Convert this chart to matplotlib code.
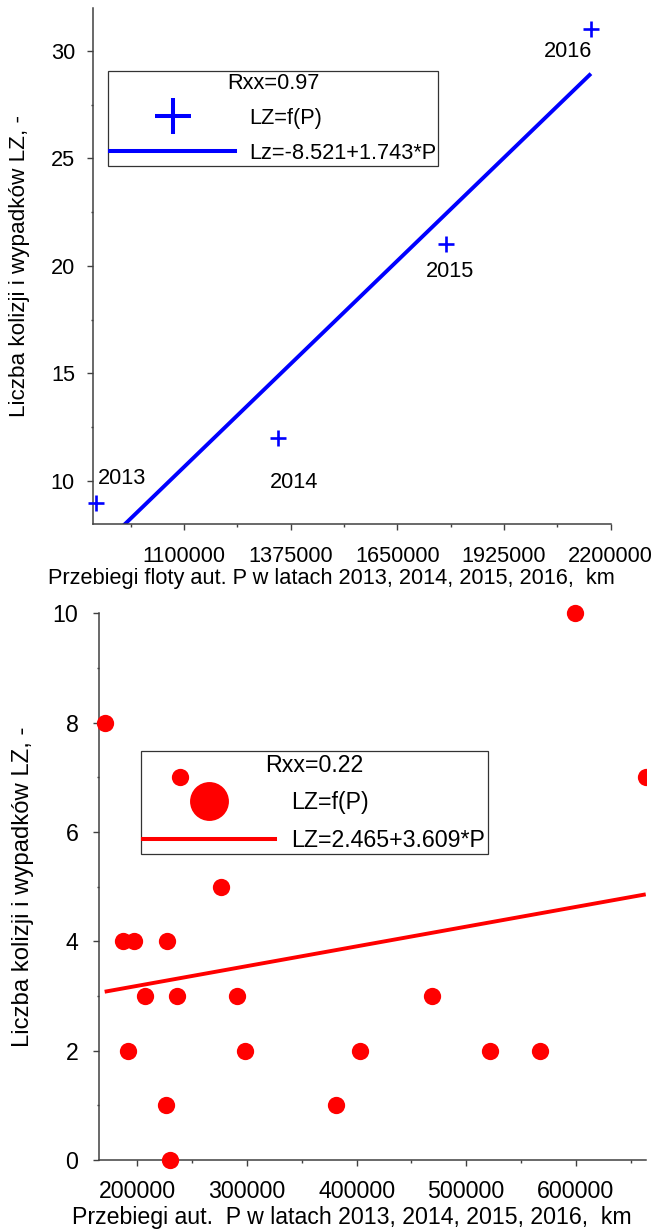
import matplotlib
matplotlib.use("Agg")
import matplotlib.pyplot as plt
from matplotlib.lines import Line2D
from matplotlib.patches import Rectangle
from matplotlib.ticker import MultipleLocator

plt.rcParams['font.family'] = ['Liberation Sans', 'DejaVu Sans']

"""
Top chart - whole fleet, one point per year
"""
years = ['2013', '2014', '2015', '2016']
fleet_km = [874000, 1343000, 1775000, 2149000]
fleet_lz = [9, 12, 21, 31]
fleet_fit = (-8.521, 1.743)   # LZ = a + b*P, P in 100000 km
fleet_r = 0.97

"""
Bottom chart - single cars
"""
car_km = [170200, 238600, 599200, 663800, 276100, 187250, 196900, 227000,
          207000, 236300, 291200, 468600, 191500, 298550, 402900, 521900,
          567150, 225900, 380900, 229800]
car_lz = [8, 7, 10, 7, 5, 4, 4, 4, 3, 3, 3, 3, 2, 2, 2, 2, 2, 1, 1, 0]
car_fit = (2.465, 3.609)      # LZ = a + b*P, P in 1000000 km
car_r = 0.22

# year label offsets (points)
year_offsets = [(18.5, 17.5), (11.5, -32), (3, -19.5), (-16.5, -16)]

BLUE = '#0000ff'
RED = '#ff0000'
AXC = '#404040'
YLABEL = 'Liczba kolizji i wypadków LZ, -'
FS_TOP = 15.7
FS_BOT = 16.7


def style_axes(ax, fs, xpad, ypad):
    for s in ['top', 'right']:
        ax.spines[s].set_visible(False)
    for s in ['left', 'bottom']:
        ax.spines[s].set_linewidth(1.1)
        ax.spines[s].set_color(AXC)
    ax.tick_params(which='major', direction='out', length=4, width=1.0,
                   color=AXC, labelsize=fs)
    ax.tick_params(which='minor', direction='out', length=1.8, width=1.0, color=AXC)
    ax.tick_params(axis='x', which='major', pad=xpad)
    ax.tick_params(axis='y', which='major', pad=ypad)
    ax.ticklabel_format(axis='x', style='plain', useOffset=False)


fig = plt.figure(figsize=(6.66, 12.29), dpi=100)

# ---------------- top ----------------
ax1 = fig.add_axes([0.1401, 0.5736, 0.7769, 0.4201])
style_axes(ax1, FS_TOP, 11.5, 9.2)
ax1.plot(fleet_km, fleet_lz, ls='none', marker='+', ms=12, mew=1.9,
         color=BLUE, clip_on=False, zorder=3)
for yr, x, y, off in zip(years, fleet_km, fleet_lz, year_offsets):
    ax1.annotate(yr, (x, y), xytext=off, textcoords='offset points',
                 ha='center', va='center', color='black', fontsize=FS_TOP)
xs = [min(fleet_km), max(fleet_km)]
ax1.plot(xs, [fleet_fit[0] + fleet_fit[1] * x / 1e5 for x in xs],
         color=BLUE, lw=2.8, solid_capstyle='butt')
ax1.set_xlim(866200, 2200000)
ax1.set_ylim(8, 32)
ax1.xaxis.set_major_locator(MultipleLocator(275000))
ax1.xaxis.set_minor_locator(MultipleLocator(137500))
ax1.yaxis.set_major_locator(MultipleLocator(5))
ax1.yaxis.set_minor_locator(MultipleLocator(2.5))
ax1.set_xlabel('Przebiegi floty aut. P w latach 2013, 2014, 2015, 2016,  km',
               va='center', fontsize=FS_TOP)
ax1.xaxis.set_label_coords(0.4604, -0.105)
ax1.set_ylabel(YLABEL, va='center', fontsize=16.2)
ax1.yaxis.set_label_coords(-0.1417, 0.5)

h1 = [Line2D([], [], ls='none', marker='+', ms=26.4, mew=2.9, color=BLUE),
      Line2D([], [], color=BLUE, lw=2.9)]
leg1 = ax1.legend(h1, ['LZ=f(P)', 'Lz={:.3f}+{:.3f}*P'.format(*fleet_fit)],
                  title='Rxx={:.2f}'.format(fleet_r), fontsize=FS_TOP,
                  title_fontsize=FS_TOP, loc='upper left',
                  bbox_to_anchor=(0.029, 0.878), borderaxespad=0,
                  borderpad=0.09, handlelength=5.73, handletextpad=0.645,
                  labelspacing=0.64, fancybox=False, edgecolor='black',
                  facecolor='none')
leg1.get_frame().set_linewidth(0.9)

# ---------------- bottom ----------------
ax2 = fig.add_axes([0.1486, 0.0561, 0.8213, 0.4448])
style_axes(ax2, FS_BOT, 10.5, 10.8)
sc = ax2.scatter(car_km, car_lz, s=155, color=RED, linewidths=0, zorder=3)
# clip only at the right edge, like the original
sc.set_clip_path(Rectangle((-0.2, -0.2), 1.2, 1.4, transform=ax2.transAxes))
xs = [min(car_km), max(car_km)]
ax2.plot(xs, [car_fit[0] + car_fit[1] * x / 1e6 for x in xs],
         color=RED, lw=2.8, solid_capstyle='butt')
ax2.set_xlim(165000, 664000)
ax2.set_ylim(0, 10)
ax2.xaxis.set_major_locator(MultipleLocator(100000))
ax2.xaxis.set_minor_locator(MultipleLocator(50000))
ax2.yaxis.set_major_locator(MultipleLocator(2))
ax2.yaxis.set_minor_locator(MultipleLocator(1))
ax2.set_xlabel('Przebiegi aut.  P w latach 2013, 2014, 2015, 2016,  km',
               va='center', fontsize=FS_BOT)
ax2.xaxis.set_label_coords(0.462, -0.1048)
ax2.set_ylabel(YLABEL, va='center', fontsize=17.2)
ax2.yaxis.set_label_coords(-0.139, 0.5)

h2 = [Line2D([], [], ls='none', marker='o', ms=28, mew=0, color=RED),
      Line2D([], [], color=RED, lw=2.9)]
leg2 = ax2.legend(h2, ['LZ=f(P)', 'LZ={:.3f}+{:.3f}*P'.format(*car_fit)],
                  title='Rxx={:.2f}'.format(car_r), fontsize=FS_BOT,
                  title_fontsize=FS_BOT, loc='upper left',
                  bbox_to_anchor=(0.0762, 0.748), borderaxespad=0,
                  borderpad=0.11, handlelength=5.7, handletextpad=0.68,
                  labelspacing=0.63, fancybox=False, edgecolor='black',
                  facecolor='none')
leg2.get_frame().set_linewidth(0.9)
leg2.set_zorder(2)

fig.savefig('out.png', dpi=100)
